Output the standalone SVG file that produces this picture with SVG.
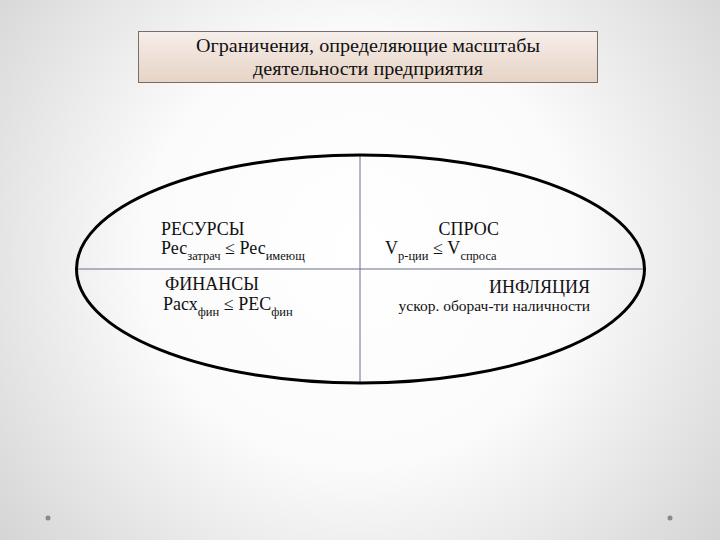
<svg xmlns="http://www.w3.org/2000/svg" width="720" height="540" viewBox="0 0 720 540">
<defs>
<radialGradient id="bg" cx="360" cy="250" r="480" gradientUnits="userSpaceOnUse">
<stop offset="0" stop-color="#ffffff"/>
<stop offset="0.45" stop-color="#fbfbfb"/>
<stop offset="1" stop-color="#d2d2d2"/>
</radialGradient>
<linearGradient id="boxfill" x1="0" y1="0" x2="0" y2="1">
<stop offset="0" stop-color="#f6eeea"/>
<stop offset="1" stop-color="#e6d3c5"/>
</linearGradient>
<style>
text{font-family:"Liberation Serif","Times New Roman","DejaVu Serif",serif;fill:#111;}
.t{font-size:19px;}
.h{font-size:18px;}
.s{font-size:12.5px;}
.n{font-size:15.5px;}
.div{stroke:#6b6f88;stroke-width:1;}
</style>
</defs>
<rect width="720" height="540" fill="url(#bg)"/>
<circle cx="48" cy="518" r="2.5" fill="#8a8a8a"/>
<circle cx="670" cy="518" r="2.5" fill="#8a8a8a"/>
<g id="title">
<rect x="138.5" y="31.5" width="459" height="51" fill="url(#boxfill)" stroke="#7a6d66" stroke-width="1"/>
<text class="t" x="368" y="52" text-anchor="middle" textLength="344" lengthAdjust="spacingAndGlyphs">Ограничения, определяющие масштабы</text>
<text class="t" x="368" y="75" text-anchor="middle" textLength="230" lengthAdjust="spacingAndGlyphs">деятельности предприятия</text>
</g>
<g id="connectors">
<line class="div" x1="360" y1="155" x2="360" y2="383"/>
<line class="div" x1="77" y1="269" x2="644" y2="269"/>
</g>
<g id="oval">
<ellipse cx="360.5" cy="269" rx="284" ry="114" fill="none" stroke="#000" stroke-width="3"/>
</g>
<g id="resources">
<text class="h" x="161" y="235">РЕСУРСЫ</text>
<text class="h" x="161" y="254">Рес<tspan class="s" dy="6">затрач</tspan><tspan dy="-6"> ≤ Рес</tspan><tspan class="s" dy="6">имеющ</tspan></text>
</g>
<g id="finance">
<text class="h" x="165" y="290">ФИНАНСЫ</text>
<text class="h" x="163" y="310">Расх<tspan class="s" dy="6">фин</tspan><tspan dy="-6"> ≤ РЕС</tspan><tspan class="s" dy="6">фин</tspan></text>
</g>
<g id="demand">
<text class="h" x="499" y="235" text-anchor="end">СПРОС</text>
<text class="h" x="385" y="254">V<tspan class="s" dy="6">р-ции</tspan><tspan dy="-6"> ≤ V</tspan><tspan class="s" dy="6">спроса</tspan></text>
</g>
<g id="inflation">
<text class="h" x="590" y="293" text-anchor="end">ИНФЛЯЦИЯ</text>
<text class="n" x="590" y="311" text-anchor="end">ускор. оборач-ти наличности</text>
</g>
</svg>
